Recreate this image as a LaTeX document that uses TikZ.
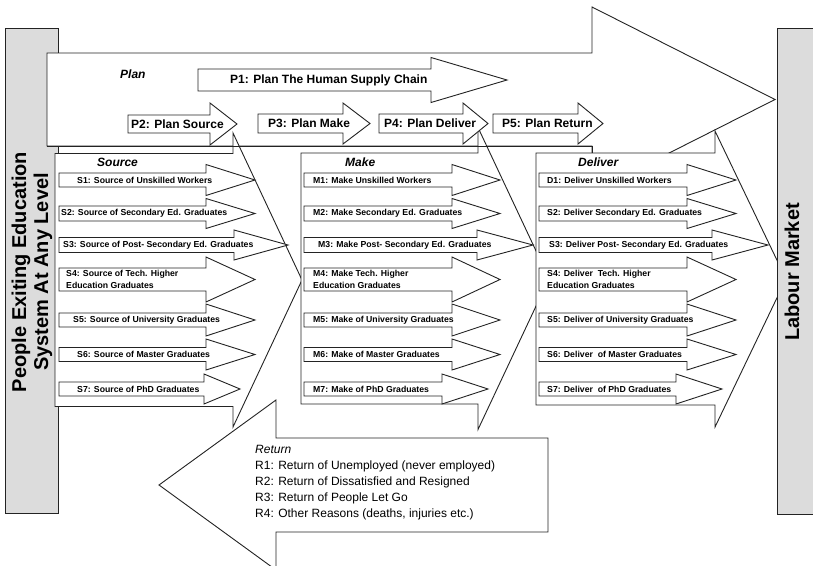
\documentclass[tikz,border=0pt]{standalone}
\usepackage{fontspec}
\setmainfont{Liberation Sans}
\definecolor{barfill}{RGB}{220,220,220}
\definecolor{inkgray}{RGB}{35,35,35}

\begin{document}
\begin{tikzpicture}[x=1pt, y=-1pt,
        bar/.style={draw=inkgray, fill=barfill, line width=0.8pt},
        blk/.style={draw=inkgray, fill=white, line width=0.9pt},
        pics/harrow/.style args={#1/#2/#3/#4}{code={
            \path[blk] (0,-#1) -- (#3,-#1) -- (#3,-#2) -- (#4,0) -- (#3,#2) -- (#3,#1) -- (0,#1) -- cycle;}},
        ttl/.style={anchor=west, inner sep=0pt, font=\bfseries\itshape\fontsize{12}{14}\selectfont},
        ptxt/.style={anchor=west, inner sep=0pt, font=\bfseries\fontsize{12}{14}\selectfont},
        stxt/.style={anchor=west, inner sep=0pt, align=left, font=\bfseries\fontsize{8.7}{12}\selectfont},
        side/.style={rotate=90, align=center, inner sep=0pt, font=\bfseries\fontsize{20}{22}\selectfont}
    ]
        \useasboundingbox (0,0) rectangle (813,565);

        \path[bar] (5,28) rectangle (58,513);
        \node[side] (people) at (32,272) {People Exiting Education\\System At Any Level};

        % plan and the three stages
        \pic at (47,99.5) {harrow=46.5/92.5/545/728};
        \pic at (55,280) {harrow=126.5/147/178/247};
        \pic at (301,278.5) {harrow=125.5/151/177/248};
        \pic at (536,279) {harrow=126/148/179/250};
        \draw[inkgray, line width=0.9pt] (47,146) -| (592,153);

        \node[ttl] (plan) at (120,74) {Plan};
        \node[ttl] (source) at (97,162) {Source};
        \node[ttl] (make) at (345,162) {Make};
        \node[ttl] (deliver) at (578,162) {Deliver};

        \pic at (198,80) {harrow=11/22.5/233/309};
        \pic at (128,124) {harrow=9/21/82/109};
        \pic at (258,123.5) {harrow=9.5/20.5/85/112};
        \pic at (379,123.5) {harrow=9.5/20.5/84/109};
        \pic at (493,123.5) {harrow=9.5/20.5/85/110};
        \node[ptxt] (p1) at (230,80) {P1: Plan The Human Supply Chain};
        \node[ptxt] (p2) at (131,124) {P2: Plan Source};
        \node[ptxt] (p3) at (268,123.5) {P3: Plan Make};
        \node[ptxt] (p4) at (384,123.5) {P4: Plan Deliver};
        \node[ptxt] (p5) at (502,123.5) {P5: Plan Return};

        % source
        \pic at (59,180) {harrow=7/15.5/147/196};
        \pic at (59,213.5) {harrow=7.5/15/147/196};
        \pic at (59,245) {harrow=7.5/15/175/229};
        \pic at (59,279.5) {harrow=11.5/22.5/147/196};
        \pic at (59,320) {harrow=7/16/147/196};
        \pic at (59,354.5) {harrow=7/15.5/147/196};
        \pic at (59,389) {harrow=7/15/145/181};
        \node[stxt] (s1) at (77,180) {S1: Source of Unskilled Workers};
        \node[stxt] (s2) at (61,213.5) {S2: Source of Secondary Ed. Graduates};
        \node[stxt] (s3) at (63,245) {S3: Source of Post- Secondary Ed. Graduates};
        \node[stxt] (s4) at (66,279.5) {S4: Source of Tech. Higher\\Education Graduates};
        \node[stxt] (s5) at (73,320) {S5: Source of University Graduates};
        \node[stxt] (s6) at (77,354.5) {S6: Source of Master Graduates};
        \node[stxt] (s7) at (77,389) {S7: Source of PhD Graduates};

        % make
        \pic at (304,180) {harrow=7/15.5/148/196};
        \pic at (304,213.5) {harrow=7.5/15/148/196};
        \pic at (304,245) {harrow=7.5/15/173/229};
        \pic at (304,279.5) {harrow=11.5/22.5/148/196};
        \pic at (304,320) {harrow=7/16/148/196};
        \pic at (304,354.5) {harrow=7/15.5/148/196};
        \pic at (304,389) {harrow=7/15/138/184};
        \node[stxt] (m1) at (313,180) {M1: Make Unskilled Workers};
        \node[stxt] (m2) at (313,213.5) {M2: Make Secondary Ed. Graduates};
        \node[stxt] (m3) at (318,245) {M3: Make Post- Secondary Ed. Graduates};
        \node[stxt] (m4) at (313,279.5) {M4: Make Tech. Higher\\Education Graduates};
        \node[stxt] (m5) at (313,320) {M5: Make of University Graduates};
        \node[stxt] (m6) at (313,354.5) {M6: Make of Master Graduates};
        \node[stxt] (m7) at (313,389) {M7: Make of PhD Graduates};

        % deliver
        \pic at (539,180) {harrow=7/15.5/148/197};
        \pic at (539,213.5) {harrow=7.5/15/148/197};
        \pic at (539,245) {harrow=7.5/15/173/229};
        \pic at (539,279.5) {harrow=11.5/22.5/148/197};
        \pic at (539,320) {harrow=7/16/148/197};
        \pic at (539,354.5) {harrow=7/15.5/148/197};
        \pic at (539,389) {harrow=7/15/137/183};
        \node[stxt] (d1) at (547,180) {D1: Deliver Unskilled Workers};
        \node[stxt] (d2) at (547,213.5) {S2: Deliver Secondary Ed. Graduates};
        \node[stxt] (d3) at (549,245) {S3: Deliver Post- Secondary Ed. Graduates};
        \node[stxt] (d4) at (547,279.5) {S4: Deliver~ Tech. Higher\\Education Graduates};
        \node[stxt] (d5) at (547,320) {S5: Deliver of University Graduates};
        \node[stxt] (d6) at (547,354.5) {S6: Deliver~ of Master Graduates};
        \node[stxt] (d7) at (547,389) {S7: Deliver~ of PhD Graduates};

        % return
        \pic at (548,485) {harrow=47/85/-272/-389};
        \node[anchor=west, align=left, inner sep=0pt, font=\fontsize{12}{16}\selectfont] (ret) at (255,483)
            {\textit{Return}\\R1: Return of Unemployed (never employed)\\R2: Return of Dissatisfied and Resigned\\R3: Return of People Let Go\\R4: Other Reasons (deaths, injuries etc.)};

        \path[bar] (777,28) rectangle (830,514);
        \node[side] (labour) at (792,272) {Labour Market};
    \end{tikzpicture}
\end{document}
